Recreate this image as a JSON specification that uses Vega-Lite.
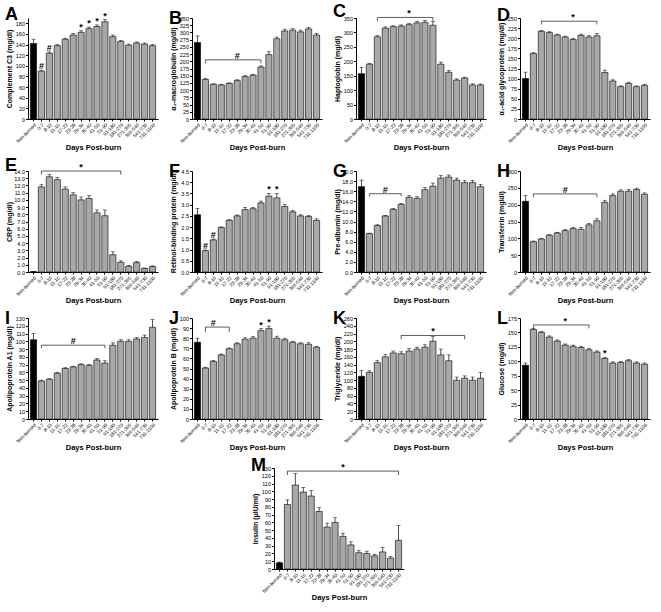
{
"$schema":"https://vega.github.io/schema/vega-lite/v6.json",
"padding":{"left":5,"right":5,"top":3,"bottom":2},
"spacing":6,
"center":true,
"config":{"view":{"stroke":null},"font":"Liberation Sans",
"axis":{"labelFont":"Liberation Sans","labelColor":"black","titleFont":"Liberation Sans","titleFontSize":7,"titleFontWeight":"bold","titleColor":"black","domainColor":"black","tickColor":"black","tickSize":2.5,"labelPadding":1,"titlePadding":2,"grid":false},
"axisX":{"labelAngle":-45,"labelFontSize":4.8,"titlePadding":0,"titleFontSize":7.5,"tickSize":2},
"axisY":{"labelFontSize":5.5,"minExtent":14,"maxExtent":14},
"text":{"color":"black"},
"title":{"anchor":"start","fontSize":18,"fontWeight":"bold","font":"Liberation Sans","offset":-12,"color":"black","frame":"bounds"}},
"datasets":{
"bars":[
{"p":"A","c":"Non-burned","v":142,"hi":150},{"p":"A","c":"0-7","v":90,"hi":92,"m":"#"},{"p":"A","c":"8-10","v":124,"hi":126,"m":"#"},{"p":"A","c":"11-16","v":138,"hi":140},{"p":"A","c":"17-22","v":150,"hi":152},{"p":"A","c":"23-28","v":158,"hi":161},{"p":"A","c":"29-34","v":163,"hi":166,"m":"*"},{"p":"A","c":"35-40","v":170,"hi":173,"m":"*"},{"p":"A","c":"41-50","v":174,"hi":177,"m":"*"},{"p":"A","c":"51-90","v":183,"hi":187,"m":"*"},{"p":"A","c":"91-180","v":155,"hi":158},{"p":"A","c":"181-270","v":146,"hi":148},{"p":"A","c":"271-365","v":139,"hi":141},{"p":"A","c":"366-540","v":143,"hi":145},{"p":"A","c":"541-730","v":141,"hi":143},{"p":"A","c":"731-1100","v":138,"hi":140},
{"p":"B","c":"Non-burned","v":265,"hi":288},{"p":"B","c":"0-7","v":137,"hi":140},{"p":"B","c":"8-10","v":120,"hi":122},{"p":"B","c":"11-16","v":118,"hi":120},{"p":"B","c":"17-22","v":123,"hi":125},{"p":"B","c":"23-28","v":133,"hi":136},{"p":"B","c":"29-34","v":147,"hi":150},{"p":"B","c":"35-40","v":152,"hi":155},{"p":"B","c":"41-50","v":180,"hi":184},{"p":"B","c":"51-90","v":223,"hi":233},{"p":"B","c":"91-180","v":278,"hi":284},{"p":"B","c":"181-270","v":305,"hi":311},{"p":"B","c":"271-365","v":308,"hi":313},{"p":"B","c":"366-540","v":302,"hi":308},{"p":"B","c":"541-730","v":312,"hi":317},{"p":"B","c":"731-1100","v":291,"hi":297},
{"p":"C","c":"Non-burned","v":157,"hi":179},{"p":"C","c":"0-7","v":190,"hi":193},{"p":"C","c":"8-10","v":285,"hi":289},{"p":"C","c":"11-16","v":315,"hi":319},{"p":"C","c":"17-22","v":320,"hi":323},{"p":"C","c":"23-28","v":322,"hi":326},{"p":"C","c":"29-34","v":327,"hi":331},{"p":"C","c":"35-40","v":333,"hi":339},{"p":"C","c":"41-50","v":335,"hi":342},{"p":"C","c":"51-90","v":325,"hi":338},{"p":"C","c":"91-180","v":190,"hi":197},{"p":"C","c":"181-270","v":162,"hi":168},{"p":"C","c":"271-365","v":135,"hi":139},{"p":"C","c":"366-540","v":142,"hi":145},{"p":"C","c":"541-730","v":118,"hi":122},{"p":"C","c":"731-1100","v":118,"hi":121},
{"p":"D","c":"Non-burned","v":100,"hi":116},{"p":"D","c":"0-7","v":162,"hi":164},{"p":"D","c":"8-10","v":217,"hi":219},{"p":"D","c":"11-16","v":214,"hi":216},{"p":"D","c":"17-22","v":208,"hi":210},{"p":"D","c":"23-28","v":203,"hi":205},{"p":"D","c":"29-34","v":197,"hi":199},{"p":"D","c":"35-40","v":207,"hi":210},{"p":"D","c":"41-50","v":203,"hi":207},{"p":"D","c":"51-90","v":206,"hi":212},{"p":"D","c":"91-180","v":115,"hi":121},{"p":"D","c":"181-270","v":94,"hi":97},{"p":"D","c":"271-365","v":80,"hi":82},{"p":"D","c":"366-540","v":88,"hi":91},{"p":"D","c":"541-730","v":80,"hi":82},{"p":"D","c":"731-1100","v":83,"hi":86},
{"p":"E","c":"Non-burned","v":0.05,"hi":0.07},{"p":"E","c":"0-7","v":11.8,"hi":12.1},{"p":"E","c":"8-10","v":13.2,"hi":13.5},{"p":"E","c":"11-16","v":12.8,"hi":13.1},{"p":"E","c":"17-22","v":11.5,"hi":11.8},{"p":"E","c":"23-28","v":10.7,"hi":11.0},{"p":"E","c":"29-34","v":10.0,"hi":10.4},{"p":"E","c":"35-40","v":10.2,"hi":10.6},{"p":"E","c":"41-50","v":8.2,"hi":8.6},{"p":"E","c":"51-90","v":7.8,"hi":8.6},{"p":"E","c":"91-180","v":2.4,"hi":2.8},{"p":"E","c":"181-270","v":1.35,"hi":1.55},{"p":"E","c":"271-365","v":0.8,"hi":0.9},{"p":"E","c":"366-540","v":1.3,"hi":1.45},{"p":"E","c":"541-730","v":0.5,"hi":0.55},{"p":"E","c":"731-1100","v":0.75,"hi":0.85},
{"p":"F","c":"Non-burned","v":2.55,"hi":2.83},{"p":"F","c":"0-7","v":0.95,"hi":0.98,"m":"#"},{"p":"F","c":"8-10","v":1.43,"hi":1.47,"m":"#"},{"p":"F","c":"11-16","v":1.98,"hi":2.01},{"p":"F","c":"17-22","v":2.3,"hi":2.33},{"p":"F","c":"23-28","v":2.5,"hi":2.54},{"p":"F","c":"29-34","v":2.78,"hi":2.88},{"p":"F","c":"35-40","v":2.82,"hi":2.87},{"p":"F","c":"41-50","v":3.08,"hi":3.16},{"p":"F","c":"51-90","v":3.38,"hi":3.5,"m":"*"},{"p":"F","c":"91-180","v":3.3,"hi":3.5,"m":"*"},{"p":"F","c":"181-270","v":2.92,"hi":3.0},{"p":"F","c":"271-365","v":2.68,"hi":2.74},{"p":"F","c":"366-540","v":2.5,"hi":2.55},{"p":"F","c":"541-730","v":2.47,"hi":2.52},{"p":"F","c":"731-1100","v":2.3,"hi":2.37},
{"p":"G","c":"Non-burned","v":16.9,"hi":18.2},{"p":"G","c":"0-7","v":7.6,"hi":7.7},{"p":"G","c":"8-10","v":9.2,"hi":9.35},{"p":"G","c":"11-16","v":11.1,"hi":11.2},{"p":"G","c":"17-22","v":12.4,"hi":12.55},{"p":"G","c":"23-28","v":13.4,"hi":13.6},{"p":"G","c":"29-34","v":14.8,"hi":15.1},{"p":"G","c":"35-40","v":14.6,"hi":14.9},{"p":"G","c":"41-50","v":16.3,"hi":16.7},{"p":"G","c":"51-90","v":17.0,"hi":17.6},{"p":"G","c":"91-180","v":18.6,"hi":19.1},{"p":"G","c":"181-270","v":18.8,"hi":19.2},{"p":"G","c":"271-365","v":18.2,"hi":18.6},{"p":"G","c":"366-540","v":17.7,"hi":18.1},{"p":"G","c":"541-730","v":17.7,"hi":18.1},{"p":"G","c":"731-1100","v":16.9,"hi":17.3},
{"p":"H","c":"Non-burned","v":210,"hi":227},{"p":"H","c":"0-7","v":90,"hi":92},{"p":"H","c":"8-10","v":98,"hi":100},{"p":"H","c":"11-16","v":109,"hi":111},{"p":"H","c":"17-22","v":116,"hi":118},{"p":"H","c":"23-28","v":123,"hi":126},{"p":"H","c":"29-34","v":129,"hi":132},{"p":"H","c":"35-40","v":127,"hi":132},{"p":"H","c":"41-50","v":140,"hi":144},{"p":"H","c":"51-90","v":152,"hi":158},{"p":"H","c":"91-180","v":207,"hi":213},{"p":"H","c":"181-270","v":227,"hi":232},{"p":"H","c":"271-365","v":240,"hi":244},{"p":"H","c":"366-540","v":240,"hi":245},{"p":"H","c":"541-730","v":245,"hi":249},{"p":"H","c":"731-1100","v":231,"hi":235},
{"p":"I","c":"Non-burned","v":102,"hi":110},{"p":"I","c":"0-7","v":49,"hi":50},{"p":"I","c":"8-10","v":51,"hi":52},{"p":"I","c":"11-16","v":59,"hi":60},{"p":"I","c":"17-22","v":65,"hi":66},{"p":"I","c":"23-28","v":67,"hi":68},{"p":"I","c":"29-34","v":70,"hi":71},{"p":"I","c":"35-40","v":69,"hi":70},{"p":"I","c":"41-50","v":76,"hi":78},{"p":"I","c":"51-90","v":72,"hi":75},{"p":"I","c":"91-180","v":95,"hi":98},{"p":"I","c":"181-270","v":100,"hi":102},{"p":"I","c":"271-365","v":100,"hi":102},{"p":"I","c":"366-540","v":103,"hi":105},{"p":"I","c":"541-730","v":105,"hi":108},{"p":"I","c":"731-1100","v":118,"hi":128},
{"p":"J","c":"Non-burned","v":76,"hi":80},{"p":"J","c":"0-7","v":50.5,"hi":51.3},{"p":"J","c":"8-10","v":57,"hi":57.8},{"p":"J","c":"11-16","v":63.5,"hi":64.3},{"p":"J","c":"17-22","v":69.5,"hi":70.3},{"p":"J","c":"23-28","v":74.5,"hi":75.5},{"p":"J","c":"29-34","v":79,"hi":80.5},{"p":"J","c":"35-40","v":80,"hi":81.5},{"p":"J","c":"41-50","v":87.5,"hi":89.5,"m":"*"},{"p":"J","c":"51-90","v":89.5,"hi":92,"m":"*"},{"p":"J","c":"91-180","v":80,"hi":82},{"p":"J","c":"181-270","v":78.5,"hi":80},{"p":"J","c":"271-365","v":76,"hi":77},{"p":"J","c":"366-540","v":74.5,"hi":75.5},{"p":"J","c":"541-730","v":74,"hi":75.5},{"p":"J","c":"731-1100","v":71,"hi":72},
{"p":"K","c":"Non-burned","v":110,"hi":125},{"p":"K","c":"0-7","v":120,"hi":124},{"p":"K","c":"8-10","v":145,"hi":150},{"p":"K","c":"11-16","v":160,"hi":166},{"p":"K","c":"17-22","v":170,"hi":175},{"p":"K","c":"23-28","v":168,"hi":173},{"p":"K","c":"29-34","v":175,"hi":181},{"p":"K","c":"35-40","v":180,"hi":185},{"p":"K","c":"41-50","v":185,"hi":191},{"p":"K","c":"51-90","v":200,"hi":212},{"p":"K","c":"91-180","v":165,"hi":180},{"p":"K","c":"181-270","v":150,"hi":165},{"p":"K","c":"271-365","v":100,"hi":108},{"p":"K","c":"366-540","v":105,"hi":111},{"p":"K","c":"541-730","v":100,"hi":108},{"p":"K","c":"731-1100","v":105,"hi":120},
{"p":"L","c":"Non-burned","v":93,"hi":97},{"p":"L","c":"0-7","v":155,"hi":157},{"p":"L","c":"8-10","v":150,"hi":152},{"p":"L","c":"11-16","v":142,"hi":144},{"p":"L","c":"17-22","v":135,"hi":137},{"p":"L","c":"23-28","v":128,"hi":130},{"p":"L","c":"29-34","v":126,"hi":128},{"p":"L","c":"35-40","v":124,"hi":126},{"p":"L","c":"41-50","v":120,"hi":122},{"p":"L","c":"51-90","v":116,"hi":118},{"p":"L","c":"91-180","v":105,"hi":107,"m":"*"},{"p":"L","c":"181-270","v":97,"hi":99},{"p":"L","c":"271-365","v":98,"hi":100},{"p":"L","c":"366-540","v":101,"hi":103},{"p":"L","c":"541-730","v":97,"hi":99},{"p":"L","c":"731-1100","v":95,"hi":97},
{"p":"M","c":"Non-burned","v":8,"hi":9},{"p":"M","c":"0-7","v":83,"hi":89},{"p":"M","c":"8-10","v":108,"hi":123},{"p":"M","c":"11-16","v":99,"hi":105},{"p":"M","c":"17-22","v":94,"hi":101},{"p":"M","c":"23-28","v":74,"hi":79},{"p":"M","c":"29-34","v":54,"hi":59},{"p":"M","c":"35-40","v":60,"hi":66},{"p":"M","c":"41-50","v":42,"hi":46},{"p":"M","c":"51-90","v":31,"hi":35},{"p":"M","c":"91-180","v":21,"hi":24},{"p":"M","c":"181-270","v":20,"hi":23},{"p":"M","c":"271-365","v":17,"hi":19},{"p":"M","c":"366-540","v":22,"hi":28},{"p":"M","c":"541-730","v":14,"hi":16},{"p":"M","c":"731-1100","v":37,"hi":56}
],
"br":[
{"p":"B","c":"0-7","c2":"41-50","cm":"23-28","y":205,"y0":193,"s":"#"},
{"p":"C","c":"8-10","c2":"51-90","cm":"29-34","y":352,"y0":340,"s":"*"},
{"p":"D","c":"8-10","c2":"51-90","cm":"29-34","y":242,"y0":234,"s":"*"},
{"p":"E","c":"0-7","c2":"181-270","cm":"29-34","y":14,"y0":13.5,"s":"*"},
{"p":"G","c":"0-7","c2":"23-28","cm":"11-16","y":15.5,"y0":15,"s":"#"},
{"p":"H","c":"0-7","c2":"51-90","cm":"23-28","y":232,"y0":222,"s":"#"},
{"p":"I","c":"0-7","c2":"51-90","cm":"23-28","y":95,"y0":91,"s":"#"},
{"p":"J","c":"0-7","c2":"17-22","cm":"8-10","y":91,"y0":86,"s":"#"},
{"p":"K","c":"23-28","c2":"366-540","cm":"51-90","y":215,"y0":205,"s":"*"},
{"p":"L","c":"0-7","c2":"41-50","cm":"23-28","y":163,"y0":157,"s":"*"},
{"p":"M","c":"0-7","c2":"731-1100","cm":"41-50","y":126,"y0":121,"s":"*"}
]},
"vconcat":[
{"hconcat":[
{"width":130,"height":101,"title":"A","layer":[
{"data":{"name":"bars"},"transform":[{"filter":"datum.p=='A'"}],"mark":{"type":"bar","stroke":"black","strokeWidth":0.6},"encoding":{"x":{"field":"c","type":"nominal","scale":{"domain":["Non-burned","0-7","8-10","11-16","17-22","23-28","29-34","35-40","41-50","51-90","91-180","181-270","271-365","366-540","541-730","731-1100"],"paddingInner":0.22,"paddingOuter":0.3},"title":"Days Post-burn"},"y":{"field":"v","type":"quantitative","scale":{"domain":[0,190],"nice":false},"axis":{"values":[0,20,40,60,80,100,120,140,160,180],"tickCount":30},"title":"Complement C3 (mg/dl)"},"fill":{"condition":{"test":"datum.c=='Non-burned'","value":"black"},"value":"#a8a8a8"}}},
{"data":{"name":"bars"},"transform":[{"filter":"datum.p=='A'"}],"mark":{"type":"rule","strokeWidth":0.7,"color":"black"},"encoding":{"x":{"field":"c","type":"nominal"},"y":{"field":"v","type":"quantitative"},"y2":{"field":"hi"}}},
{"data":{"name":"bars"},"transform":[{"filter":"datum.p=='A'"}],"mark":{"type":"tick","size":4,"thickness":0.7,"color":"black"},"encoding":{"x":{"field":"c","type":"nominal"},"y":{"field":"hi","type":"quantitative"}}},
{"data":{"name":"bars"},"transform":[{"filter":"datum.p=='A' && datum.m"}],"mark":{"type":"text","dy":-4,"fontSize":9,"fontWeight":"bold","color":"black"},"encoding":{"x":{"field":"c","type":"nominal"},"y":{"field":"hi","type":"quantitative"},"text":{"field":"m"}}}
]},
{"width":130,"height":101,"title":"B","layer":[
{"data":{"name":"bars"},"transform":[{"filter":"datum.p=='B'"}],"mark":{"type":"bar","stroke":"black","strokeWidth":0.6},"encoding":{"x":{"field":"c","type":"nominal","scale":{"domain":["Non-burned","0-7","8-10","11-16","17-22","23-28","29-34","35-40","41-50","51-90","91-180","181-270","271-365","366-540","541-730","731-1100"],"paddingInner":0.22,"paddingOuter":0.3},"title":"Days Post-burn"},"y":{"field":"v","type":"quantitative","scale":{"domain":[0,350],"nice":false},"axis":{"values":[0,25,50,75,100,125,150,175,200,225,250,275,300,325,350],"tickCount":30},"title":"α₂-macroglobulin (mg/dl)"},"fill":{"condition":{"test":"datum.c=='Non-burned'","value":"black"},"value":"#a8a8a8"}}},
{"data":{"name":"bars"},"transform":[{"filter":"datum.p=='B'"}],"mark":{"type":"rule","strokeWidth":0.7,"color":"black"},"encoding":{"x":{"field":"c","type":"nominal"},"y":{"field":"v","type":"quantitative"},"y2":{"field":"hi"}}},
{"data":{"name":"bars"},"transform":[{"filter":"datum.p=='B'"}],"mark":{"type":"tick","size":4,"thickness":0.7,"color":"black"},"encoding":{"x":{"field":"c","type":"nominal"},"y":{"field":"hi","type":"quantitative"}}},
{"data":{"name":"br"},"transform":[{"filter":"datum.p=='B'"}],"layer":[
{"mark":{"type":"rule","color":"#333","strokeWidth":0.8},"encoding":{"x":{"field":"c","type":"nominal"},"x2":{"field":"c2"},"y":{"field":"y","type":"quantitative"}}},
{"mark":{"type":"rule","color":"#333","strokeWidth":0.8},"encoding":{"x":{"field":"c","type":"nominal"},"y":{"field":"y","type":"quantitative"},"y2":{"field":"y0"}}},
{"mark":{"type":"rule","color":"#333","strokeWidth":0.8},"encoding":{"x":{"field":"c2","type":"nominal"},"y":{"field":"y","type":"quantitative"},"y2":{"field":"y0"}}},
{"mark":{"type":"text","dy":-4,"fontSize":9,"fontWeight":"bold","color":"black"},"encoding":{"x":{"field":"cm","type":"nominal"},"y":{"field":"y","type":"quantitative"},"text":{"field":"s"}}}]}
]},
{"width":130,"height":101,"title":"C","layer":[
{"data":{"name":"bars"},"transform":[{"filter":"datum.p=='C'"}],"mark":{"type":"bar","stroke":"black","strokeWidth":0.6},"encoding":{"x":{"field":"c","type":"nominal","scale":{"domain":["Non-burned","0-7","8-10","11-16","17-22","23-28","29-34","35-40","41-50","51-90","91-180","181-270","271-365","366-540","541-730","731-1100"],"paddingInner":0.22,"paddingOuter":0.3},"title":"Days Post-burn"},"y":{"field":"v","type":"quantitative","scale":{"domain":[0,350],"nice":false},"axis":{"values":[0,50,100,150,200,250,300,350],"tickCount":30},"title":"Haptoglobin (mg/dl)"},"fill":{"condition":{"test":"datum.c=='Non-burned'","value":"black"},"value":"#a8a8a8"}}},
{"data":{"name":"bars"},"transform":[{"filter":"datum.p=='C'"}],"mark":{"type":"rule","strokeWidth":0.7,"color":"black"},"encoding":{"x":{"field":"c","type":"nominal"},"y":{"field":"v","type":"quantitative"},"y2":{"field":"hi"}}},
{"data":{"name":"bars"},"transform":[{"filter":"datum.p=='C'"}],"mark":{"type":"tick","size":4,"thickness":0.7,"color":"black"},"encoding":{"x":{"field":"c","type":"nominal"},"y":{"field":"hi","type":"quantitative"}}},
{"data":{"name":"br"},"transform":[{"filter":"datum.p=='C'"}],"layer":[
{"mark":{"type":"rule","color":"#333","strokeWidth":0.8},"encoding":{"x":{"field":"c","type":"nominal"},"x2":{"field":"c2"},"y":{"field":"y","type":"quantitative"}}},
{"mark":{"type":"rule","color":"#333","strokeWidth":0.8},"encoding":{"x":{"field":"c","type":"nominal"},"y":{"field":"y","type":"quantitative"},"y2":{"field":"y0"}}},
{"mark":{"type":"rule","color":"#333","strokeWidth":0.8},"encoding":{"x":{"field":"c2","type":"nominal"},"y":{"field":"y","type":"quantitative"},"y2":{"field":"y0"}}},
{"mark":{"type":"text","dy":-4,"fontSize":9,"fontWeight":"bold","color":"black"},"encoding":{"x":{"field":"cm","type":"nominal"},"y":{"field":"y","type":"quantitative"},"text":{"field":"s"}}}]}
]},
{"width":130,"height":101,"title":"D","layer":[
{"data":{"name":"bars"},"transform":[{"filter":"datum.p=='D'"}],"mark":{"type":"bar","stroke":"black","strokeWidth":0.6},"encoding":{"x":{"field":"c","type":"nominal","scale":{"domain":["Non-burned","0-7","8-10","11-16","17-22","23-28","29-34","35-40","41-50","51-90","91-180","181-270","271-365","366-540","541-730","731-1100"],"paddingInner":0.22,"paddingOuter":0.3},"title":"Days Post-burn"},"y":{"field":"v","type":"quantitative","scale":{"domain":[0,250],"nice":false},"axis":{"values":[0,25,50,75,100,125,150,175,200,225,250],"tickCount":30},"title":"α₁-acid glycoprotein (mg/dl)"},"fill":{"condition":{"test":"datum.c=='Non-burned'","value":"black"},"value":"#a8a8a8"}}},
{"data":{"name":"bars"},"transform":[{"filter":"datum.p=='D'"}],"mark":{"type":"rule","strokeWidth":0.7,"color":"black"},"encoding":{"x":{"field":"c","type":"nominal"},"y":{"field":"v","type":"quantitative"},"y2":{"field":"hi"}}},
{"data":{"name":"bars"},"transform":[{"filter":"datum.p=='D'"}],"mark":{"type":"tick","size":4,"thickness":0.7,"color":"black"},"encoding":{"x":{"field":"c","type":"nominal"},"y":{"field":"hi","type":"quantitative"}}},
{"data":{"name":"br"},"transform":[{"filter":"datum.p=='D'"}],"layer":[
{"mark":{"type":"rule","color":"#333","strokeWidth":0.8},"encoding":{"x":{"field":"c","type":"nominal"},"x2":{"field":"c2"},"y":{"field":"y","type":"quantitative"}}},
{"mark":{"type":"rule","color":"#333","strokeWidth":0.8},"encoding":{"x":{"field":"c","type":"nominal"},"y":{"field":"y","type":"quantitative"},"y2":{"field":"y0"}}},
{"mark":{"type":"rule","color":"#333","strokeWidth":0.8},"encoding":{"x":{"field":"c2","type":"nominal"},"y":{"field":"y","type":"quantitative"},"y2":{"field":"y0"}}},
{"mark":{"type":"text","dy":-4,"fontSize":9,"fontWeight":"bold","color":"black"},"encoding":{"x":{"field":"cm","type":"nominal"},"y":{"field":"y","type":"quantitative"},"text":{"field":"s"}}}]}
]}
],"spacing":11},
{"hconcat":[
{"width":130,"height":101,"title":"E","layer":[
{"data":{"name":"bars"},"transform":[{"filter":"datum.p=='E'"}],"mark":{"type":"bar","stroke":"black","strokeWidth":0.6},"encoding":{"x":{"field":"c","type":"nominal","scale":{"domain":["Non-burned","0-7","8-10","11-16","17-22","23-28","29-34","35-40","41-50","51-90","91-180","181-270","271-365","366-540","541-730","731-1100"],"paddingInner":0.22,"paddingOuter":0.3},"title":"Days Post-burn"},"y":{"field":"v","type":"quantitative","scale":{"domain":[0,14],"nice":false},"axis":{"values":[0,1,2,3,4,5,6,7,8,9,10,11,12,13,14],"tickCount":30},"title":"CRP (mg/dl)"},"fill":{"condition":{"test":"datum.c=='Non-burned'","value":"black"},"value":"#a8a8a8"}}},
{"data":{"name":"bars"},"transform":[{"filter":"datum.p=='E'"}],"mark":{"type":"rule","strokeWidth":0.7,"color":"black"},"encoding":{"x":{"field":"c","type":"nominal"},"y":{"field":"v","type":"quantitative"},"y2":{"field":"hi"}}},
{"data":{"name":"bars"},"transform":[{"filter":"datum.p=='E'"}],"mark":{"type":"tick","size":4,"thickness":0.7,"color":"black"},"encoding":{"x":{"field":"c","type":"nominal"},"y":{"field":"hi","type":"quantitative"}}},
{"data":{"name":"br"},"transform":[{"filter":"datum.p=='E'"}],"layer":[
{"mark":{"type":"rule","color":"#333","strokeWidth":0.8},"encoding":{"x":{"field":"c","type":"nominal"},"x2":{"field":"c2"},"y":{"field":"y","type":"quantitative"}}},
{"mark":{"type":"rule","color":"#333","strokeWidth":0.8},"encoding":{"x":{"field":"c","type":"nominal"},"y":{"field":"y","type":"quantitative"},"y2":{"field":"y0"}}},
{"mark":{"type":"rule","color":"#333","strokeWidth":0.8},"encoding":{"x":{"field":"c2","type":"nominal"},"y":{"field":"y","type":"quantitative"},"y2":{"field":"y0"}}},
{"mark":{"type":"text","dy":-4,"fontSize":9,"fontWeight":"bold","color":"black"},"encoding":{"x":{"field":"cm","type":"nominal"},"y":{"field":"y","type":"quantitative"},"text":{"field":"s"}}}]}
]},
{"width":130,"height":101,"title":"F","layer":[
{"data":{"name":"bars"},"transform":[{"filter":"datum.p=='F'"}],"mark":{"type":"bar","stroke":"black","strokeWidth":0.6},"encoding":{"x":{"field":"c","type":"nominal","scale":{"domain":["Non-burned","0-7","8-10","11-16","17-22","23-28","29-34","35-40","41-50","51-90","91-180","181-270","271-365","366-540","541-730","731-1100"],"paddingInner":0.22,"paddingOuter":0.3},"title":"Days Post-burn"},"y":{"field":"v","type":"quantitative","scale":{"domain":[0,4.5],"nice":false},"axis":{"values":[0,0.5,1,1.5,2,2.5,3,3.5,4,4.5],"format":".1f","tickCount":30},"title":"Retinol-binding protein (mg/dl)"},"fill":{"condition":{"test":"datum.c=='Non-burned'","value":"black"},"value":"#a8a8a8"}}},
{"data":{"name":"bars"},"transform":[{"filter":"datum.p=='F'"}],"mark":{"type":"rule","strokeWidth":0.7,"color":"black"},"encoding":{"x":{"field":"c","type":"nominal"},"y":{"field":"v","type":"quantitative"},"y2":{"field":"hi"}}},
{"data":{"name":"bars"},"transform":[{"filter":"datum.p=='F'"}],"mark":{"type":"tick","size":4,"thickness":0.7,"color":"black"},"encoding":{"x":{"field":"c","type":"nominal"},"y":{"field":"hi","type":"quantitative"}}},
{"data":{"name":"bars"},"transform":[{"filter":"datum.p=='F' && datum.m"}],"mark":{"type":"text","dy":-4,"fontSize":9,"fontWeight":"bold","color":"black"},"encoding":{"x":{"field":"c","type":"nominal"},"y":{"field":"hi","type":"quantitative"},"text":{"field":"m"}}}
]},
{"width":130,"height":101,"title":"G","layer":[
{"data":{"name":"bars"},"transform":[{"filter":"datum.p=='G'"}],"mark":{"type":"bar","stroke":"black","strokeWidth":0.6},"encoding":{"x":{"field":"c","type":"nominal","scale":{"domain":["Non-burned","0-7","8-10","11-16","17-22","23-28","29-34","35-40","41-50","51-90","91-180","181-270","271-365","366-540","541-730","731-1100"],"paddingInner":0.22,"paddingOuter":0.3},"title":"Days Post-burn"},"y":{"field":"v","type":"quantitative","scale":{"domain":[0,20],"nice":false},"axis":{"values":[0,2,4,6,8,10,12,14,16,18,20],"tickCount":30},"title":"Pre-albumin (mg/dl)"},"fill":{"condition":{"test":"datum.c=='Non-burned'","value":"black"},"value":"#a8a8a8"}}},
{"data":{"name":"bars"},"transform":[{"filter":"datum.p=='G'"}],"mark":{"type":"rule","strokeWidth":0.7,"color":"black"},"encoding":{"x":{"field":"c","type":"nominal"},"y":{"field":"v","type":"quantitative"},"y2":{"field":"hi"}}},
{"data":{"name":"bars"},"transform":[{"filter":"datum.p=='G'"}],"mark":{"type":"tick","size":4,"thickness":0.7,"color":"black"},"encoding":{"x":{"field":"c","type":"nominal"},"y":{"field":"hi","type":"quantitative"}}},
{"data":{"name":"br"},"transform":[{"filter":"datum.p=='G'"}],"layer":[
{"mark":{"type":"rule","color":"#333","strokeWidth":0.8},"encoding":{"x":{"field":"c","type":"nominal"},"x2":{"field":"c2"},"y":{"field":"y","type":"quantitative"}}},
{"mark":{"type":"rule","color":"#333","strokeWidth":0.8},"encoding":{"x":{"field":"c","type":"nominal"},"y":{"field":"y","type":"quantitative"},"y2":{"field":"y0"}}},
{"mark":{"type":"rule","color":"#333","strokeWidth":0.8},"encoding":{"x":{"field":"c2","type":"nominal"},"y":{"field":"y","type":"quantitative"},"y2":{"field":"y0"}}},
{"mark":{"type":"text","dy":-4,"fontSize":9,"fontWeight":"bold","color":"black"},"encoding":{"x":{"field":"cm","type":"nominal"},"y":{"field":"y","type":"quantitative"},"text":{"field":"s"}}}]}
]},
{"width":130,"height":101,"title":"H","layer":[
{"data":{"name":"bars"},"transform":[{"filter":"datum.p=='H'"}],"mark":{"type":"bar","stroke":"black","strokeWidth":0.6},"encoding":{"x":{"field":"c","type":"nominal","scale":{"domain":["Non-burned","0-7","8-10","11-16","17-22","23-28","29-34","35-40","41-50","51-90","91-180","181-270","271-365","366-540","541-730","731-1100"],"paddingInner":0.22,"paddingOuter":0.3},"title":"Days Post-burn"},"y":{"field":"v","type":"quantitative","scale":{"domain":[0,300],"nice":false},"axis":{"values":[0,50,100,150,200,250,300],"tickCount":30},"title":"Transferrin (mg/dl)"},"fill":{"condition":{"test":"datum.c=='Non-burned'","value":"black"},"value":"#a8a8a8"}}},
{"data":{"name":"bars"},"transform":[{"filter":"datum.p=='H'"}],"mark":{"type":"rule","strokeWidth":0.7,"color":"black"},"encoding":{"x":{"field":"c","type":"nominal"},"y":{"field":"v","type":"quantitative"},"y2":{"field":"hi"}}},
{"data":{"name":"bars"},"transform":[{"filter":"datum.p=='H'"}],"mark":{"type":"tick","size":4,"thickness":0.7,"color":"black"},"encoding":{"x":{"field":"c","type":"nominal"},"y":{"field":"hi","type":"quantitative"}}},
{"data":{"name":"br"},"transform":[{"filter":"datum.p=='H'"}],"layer":[
{"mark":{"type":"rule","color":"#333","strokeWidth":0.8},"encoding":{"x":{"field":"c","type":"nominal"},"x2":{"field":"c2"},"y":{"field":"y","type":"quantitative"}}},
{"mark":{"type":"rule","color":"#333","strokeWidth":0.8},"encoding":{"x":{"field":"c","type":"nominal"},"y":{"field":"y","type":"quantitative"},"y2":{"field":"y0"}}},
{"mark":{"type":"rule","color":"#333","strokeWidth":0.8},"encoding":{"x":{"field":"c2","type":"nominal"},"y":{"field":"y","type":"quantitative"},"y2":{"field":"y0"}}},
{"mark":{"type":"text","dy":-4,"fontSize":9,"fontWeight":"bold","color":"black"},"encoding":{"x":{"field":"cm","type":"nominal"},"y":{"field":"y","type":"quantitative"},"text":{"field":"s"}}}]}
]}
],"spacing":11},
{"hconcat":[
{"width":130,"height":101,"title":"I","layer":[
{"data":{"name":"bars"},"transform":[{"filter":"datum.p=='I'"}],"mark":{"type":"bar","stroke":"black","strokeWidth":0.6},"encoding":{"x":{"field":"c","type":"nominal","scale":{"domain":["Non-burned","0-7","8-10","11-16","17-22","23-28","29-34","35-40","41-50","51-90","91-180","181-270","271-365","366-540","541-730","731-1100"],"paddingInner":0.22,"paddingOuter":0.3},"title":"Days Post-burn"},"y":{"field":"v","type":"quantitative","scale":{"domain":[0,130],"nice":false},"axis":{"values":[0,10,20,30,40,50,60,70,80,90,100,110,120,130],"tickCount":30},"title":"Apolipoprotein A1 (mg/dl)"},"fill":{"condition":{"test":"datum.c=='Non-burned'","value":"black"},"value":"#a8a8a8"}}},
{"data":{"name":"bars"},"transform":[{"filter":"datum.p=='I'"}],"mark":{"type":"rule","strokeWidth":0.7,"color":"black"},"encoding":{"x":{"field":"c","type":"nominal"},"y":{"field":"v","type":"quantitative"},"y2":{"field":"hi"}}},
{"data":{"name":"bars"},"transform":[{"filter":"datum.p=='I'"}],"mark":{"type":"tick","size":4,"thickness":0.7,"color":"black"},"encoding":{"x":{"field":"c","type":"nominal"},"y":{"field":"hi","type":"quantitative"}}},
{"data":{"name":"br"},"transform":[{"filter":"datum.p=='I'"}],"layer":[
{"mark":{"type":"rule","color":"#333","strokeWidth":0.8},"encoding":{"x":{"field":"c","type":"nominal"},"x2":{"field":"c2"},"y":{"field":"y","type":"quantitative"}}},
{"mark":{"type":"rule","color":"#333","strokeWidth":0.8},"encoding":{"x":{"field":"c","type":"nominal"},"y":{"field":"y","type":"quantitative"},"y2":{"field":"y0"}}},
{"mark":{"type":"rule","color":"#333","strokeWidth":0.8},"encoding":{"x":{"field":"c2","type":"nominal"},"y":{"field":"y","type":"quantitative"},"y2":{"field":"y0"}}},
{"mark":{"type":"text","dy":-4,"fontSize":9,"fontWeight":"bold","color":"black"},"encoding":{"x":{"field":"cm","type":"nominal"},"y":{"field":"y","type":"quantitative"},"text":{"field":"s"}}}]}
]},
{"width":130,"height":101,"title":"J","layer":[
{"data":{"name":"bars"},"transform":[{"filter":"datum.p=='J'"}],"mark":{"type":"bar","stroke":"black","strokeWidth":0.6},"encoding":{"x":{"field":"c","type":"nominal","scale":{"domain":["Non-burned","0-7","8-10","11-16","17-22","23-28","29-34","35-40","41-50","51-90","91-180","181-270","271-365","366-540","541-730","731-1100"],"paddingInner":0.22,"paddingOuter":0.3},"title":"Days Post-burn"},"y":{"field":"v","type":"quantitative","scale":{"domain":[0,100],"nice":false},"axis":{"values":[0,10,20,30,40,50,60,70,80,90,100],"tickCount":30},"title":"Apolipoprotein B (mg/dl)"},"fill":{"condition":{"test":"datum.c=='Non-burned'","value":"black"},"value":"#a8a8a8"}}},
{"data":{"name":"bars"},"transform":[{"filter":"datum.p=='J'"}],"mark":{"type":"rule","strokeWidth":0.7,"color":"black"},"encoding":{"x":{"field":"c","type":"nominal"},"y":{"field":"v","type":"quantitative"},"y2":{"field":"hi"}}},
{"data":{"name":"bars"},"transform":[{"filter":"datum.p=='J'"}],"mark":{"type":"tick","size":4,"thickness":0.7,"color":"black"},"encoding":{"x":{"field":"c","type":"nominal"},"y":{"field":"hi","type":"quantitative"}}},
{"data":{"name":"bars"},"transform":[{"filter":"datum.p=='J' && datum.m"}],"mark":{"type":"text","dy":-4,"fontSize":9,"fontWeight":"bold","color":"black"},"encoding":{"x":{"field":"c","type":"nominal"},"y":{"field":"hi","type":"quantitative"},"text":{"field":"m"}}},
{"data":{"name":"br"},"transform":[{"filter":"datum.p=='J'"}],"layer":[
{"mark":{"type":"rule","color":"#333","strokeWidth":0.8},"encoding":{"x":{"field":"c","type":"nominal"},"x2":{"field":"c2"},"y":{"field":"y","type":"quantitative"}}},
{"mark":{"type":"rule","color":"#333","strokeWidth":0.8},"encoding":{"x":{"field":"c","type":"nominal"},"y":{"field":"y","type":"quantitative"},"y2":{"field":"y0"}}},
{"mark":{"type":"rule","color":"#333","strokeWidth":0.8},"encoding":{"x":{"field":"c2","type":"nominal"},"y":{"field":"y","type":"quantitative"},"y2":{"field":"y0"}}},
{"mark":{"type":"text","dy":-4,"fontSize":9,"fontWeight":"bold","color":"black"},"encoding":{"x":{"field":"cm","type":"nominal"},"y":{"field":"y","type":"quantitative"},"text":{"field":"s"}}}]}
]},
{"width":130,"height":101,"title":"K","layer":[
{"data":{"name":"bars"},"transform":[{"filter":"datum.p=='K'"}],"mark":{"type":"bar","stroke":"black","strokeWidth":0.6},"encoding":{"x":{"field":"c","type":"nominal","scale":{"domain":["Non-burned","0-7","8-10","11-16","17-22","23-28","29-34","35-40","41-50","51-90","91-180","181-270","271-365","366-540","541-730","731-1100"],"paddingInner":0.22,"paddingOuter":0.3},"title":"Days Post-burn"},"y":{"field":"v","type":"quantitative","scale":{"domain":[0,260],"nice":false},"axis":{"values":[0,20,40,60,80,100,120,140,160,180,200,220,240,260],"tickCount":30},"title":"Triglyceride (mg/dl)"},"fill":{"condition":{"test":"datum.c=='Non-burned'","value":"black"},"value":"#a8a8a8"}}},
{"data":{"name":"bars"},"transform":[{"filter":"datum.p=='K'"}],"mark":{"type":"rule","strokeWidth":0.7,"color":"black"},"encoding":{"x":{"field":"c","type":"nominal"},"y":{"field":"v","type":"quantitative"},"y2":{"field":"hi"}}},
{"data":{"name":"bars"},"transform":[{"filter":"datum.p=='K'"}],"mark":{"type":"tick","size":4,"thickness":0.7,"color":"black"},"encoding":{"x":{"field":"c","type":"nominal"},"y":{"field":"hi","type":"quantitative"}}},
{"data":{"name":"br"},"transform":[{"filter":"datum.p=='K'"}],"layer":[
{"mark":{"type":"rule","color":"#333","strokeWidth":0.8},"encoding":{"x":{"field":"c","type":"nominal"},"x2":{"field":"c2"},"y":{"field":"y","type":"quantitative"}}},
{"mark":{"type":"rule","color":"#333","strokeWidth":0.8},"encoding":{"x":{"field":"c","type":"nominal"},"y":{"field":"y","type":"quantitative"},"y2":{"field":"y0"}}},
{"mark":{"type":"rule","color":"#333","strokeWidth":0.8},"encoding":{"x":{"field":"c2","type":"nominal"},"y":{"field":"y","type":"quantitative"},"y2":{"field":"y0"}}},
{"mark":{"type":"text","dy":-4,"fontSize":9,"fontWeight":"bold","color":"black"},"encoding":{"x":{"field":"cm","type":"nominal"},"y":{"field":"y","type":"quantitative"},"text":{"field":"s"}}}]}
]},
{"width":130,"height":101,"title":"L","layer":[
{"data":{"name":"bars"},"transform":[{"filter":"datum.p=='L'"}],"mark":{"type":"bar","stroke":"black","strokeWidth":0.6},"encoding":{"x":{"field":"c","type":"nominal","scale":{"domain":["Non-burned","0-7","8-10","11-16","17-22","23-28","29-34","35-40","41-50","51-90","91-180","181-270","271-365","366-540","541-730","731-1100"],"paddingInner":0.22,"paddingOuter":0.3},"title":"Days Post-burn"},"y":{"field":"v","type":"quantitative","scale":{"domain":[0,175],"nice":false},"axis":{"values":[0,25,50,75,100,125,150,175],"tickCount":30},"title":"Glucose (mg/dl)"},"fill":{"condition":{"test":"datum.c=='Non-burned'","value":"black"},"value":"#a8a8a8"}}},
{"data":{"name":"bars"},"transform":[{"filter":"datum.p=='L'"}],"mark":{"type":"rule","strokeWidth":0.7,"color":"black"},"encoding":{"x":{"field":"c","type":"nominal"},"y":{"field":"v","type":"quantitative"},"y2":{"field":"hi"}}},
{"data":{"name":"bars"},"transform":[{"filter":"datum.p=='L'"}],"mark":{"type":"tick","size":4,"thickness":0.7,"color":"black"},"encoding":{"x":{"field":"c","type":"nominal"},"y":{"field":"hi","type":"quantitative"}}},
{"data":{"name":"bars"},"transform":[{"filter":"datum.p=='L' && datum.m"}],"mark":{"type":"text","dy":-4,"fontSize":9,"fontWeight":"bold","color":"black"},"encoding":{"x":{"field":"c","type":"nominal"},"y":{"field":"hi","type":"quantitative"},"text":{"field":"m"}}},
{"data":{"name":"br"},"transform":[{"filter":"datum.p=='L'"}],"layer":[
{"mark":{"type":"rule","color":"#333","strokeWidth":0.8},"encoding":{"x":{"field":"c","type":"nominal"},"x2":{"field":"c2"},"y":{"field":"y","type":"quantitative"}}},
{"mark":{"type":"rule","color":"#333","strokeWidth":0.8},"encoding":{"x":{"field":"c","type":"nominal"},"y":{"field":"y","type":"quantitative"},"y2":{"field":"y0"}}},
{"mark":{"type":"rule","color":"#333","strokeWidth":0.8},"encoding":{"x":{"field":"c2","type":"nominal"},"y":{"field":"y","type":"quantitative"},"y2":{"field":"y0"}}},
{"mark":{"type":"text","dy":-4,"fontSize":9,"fontWeight":"bold","color":"black"},"encoding":{"x":{"field":"cm","type":"nominal"},"y":{"field":"y","type":"quantitative"},"text":{"field":"s"}}}]}
]}
],"spacing":11},
{"hconcat":[
{"width":130,"height":101,"title":"M","layer":[
{"data":{"name":"bars"},"transform":[{"filter":"datum.p=='M'"}],"mark":{"type":"bar","stroke":"black","strokeWidth":0.6},"encoding":{"x":{"field":"c","type":"nominal","scale":{"domain":["Non-burned","0-7","8-10","11-16","17-22","23-28","29-34","35-40","41-50","51-90","91-180","181-270","271-365","366-540","541-730","731-1100"],"paddingInner":0.22,"paddingOuter":0.3},"title":"Days Post-burn"},"y":{"field":"v","type":"quantitative","scale":{"domain":[0,130],"nice":false},"axis":{"values":[0,10,20,30,40,50,60,70,80,90,100,110,120,130],"tickCount":30},"title":"Insulin (μIU/ml)"},"fill":{"condition":{"test":"datum.c=='Non-burned'","value":"black"},"value":"#a8a8a8"}}},
{"data":{"name":"bars"},"transform":[{"filter":"datum.p=='M'"}],"mark":{"type":"rule","strokeWidth":0.7,"color":"black"},"encoding":{"x":{"field":"c","type":"nominal"},"y":{"field":"v","type":"quantitative"},"y2":{"field":"hi"}}},
{"data":{"name":"bars"},"transform":[{"filter":"datum.p=='M'"}],"mark":{"type":"tick","size":4,"thickness":0.7,"color":"black"},"encoding":{"x":{"field":"c","type":"nominal"},"y":{"field":"hi","type":"quantitative"}}},
{"data":{"name":"br"},"transform":[{"filter":"datum.p=='M'"}],"layer":[
{"mark":{"type":"rule","color":"#333","strokeWidth":0.8},"encoding":{"x":{"field":"c","type":"nominal"},"x2":{"field":"c2"},"y":{"field":"y","type":"quantitative"}}},
{"mark":{"type":"rule","color":"#333","strokeWidth":0.8},"encoding":{"x":{"field":"c","type":"nominal"},"y":{"field":"y","type":"quantitative"},"y2":{"field":"y0"}}},
{"mark":{"type":"rule","color":"#333","strokeWidth":0.8},"encoding":{"x":{"field":"c2","type":"nominal"},"y":{"field":"y","type":"quantitative"},"y2":{"field":"y0"}}},
{"mark":{"type":"text","dy":-4,"fontSize":9,"fontWeight":"bold","color":"black"},"encoding":{"x":{"field":"cm","type":"nominal"},"y":{"field":"y","type":"quantitative"},"text":{"field":"s"}}}]}
]}
]}
]}
